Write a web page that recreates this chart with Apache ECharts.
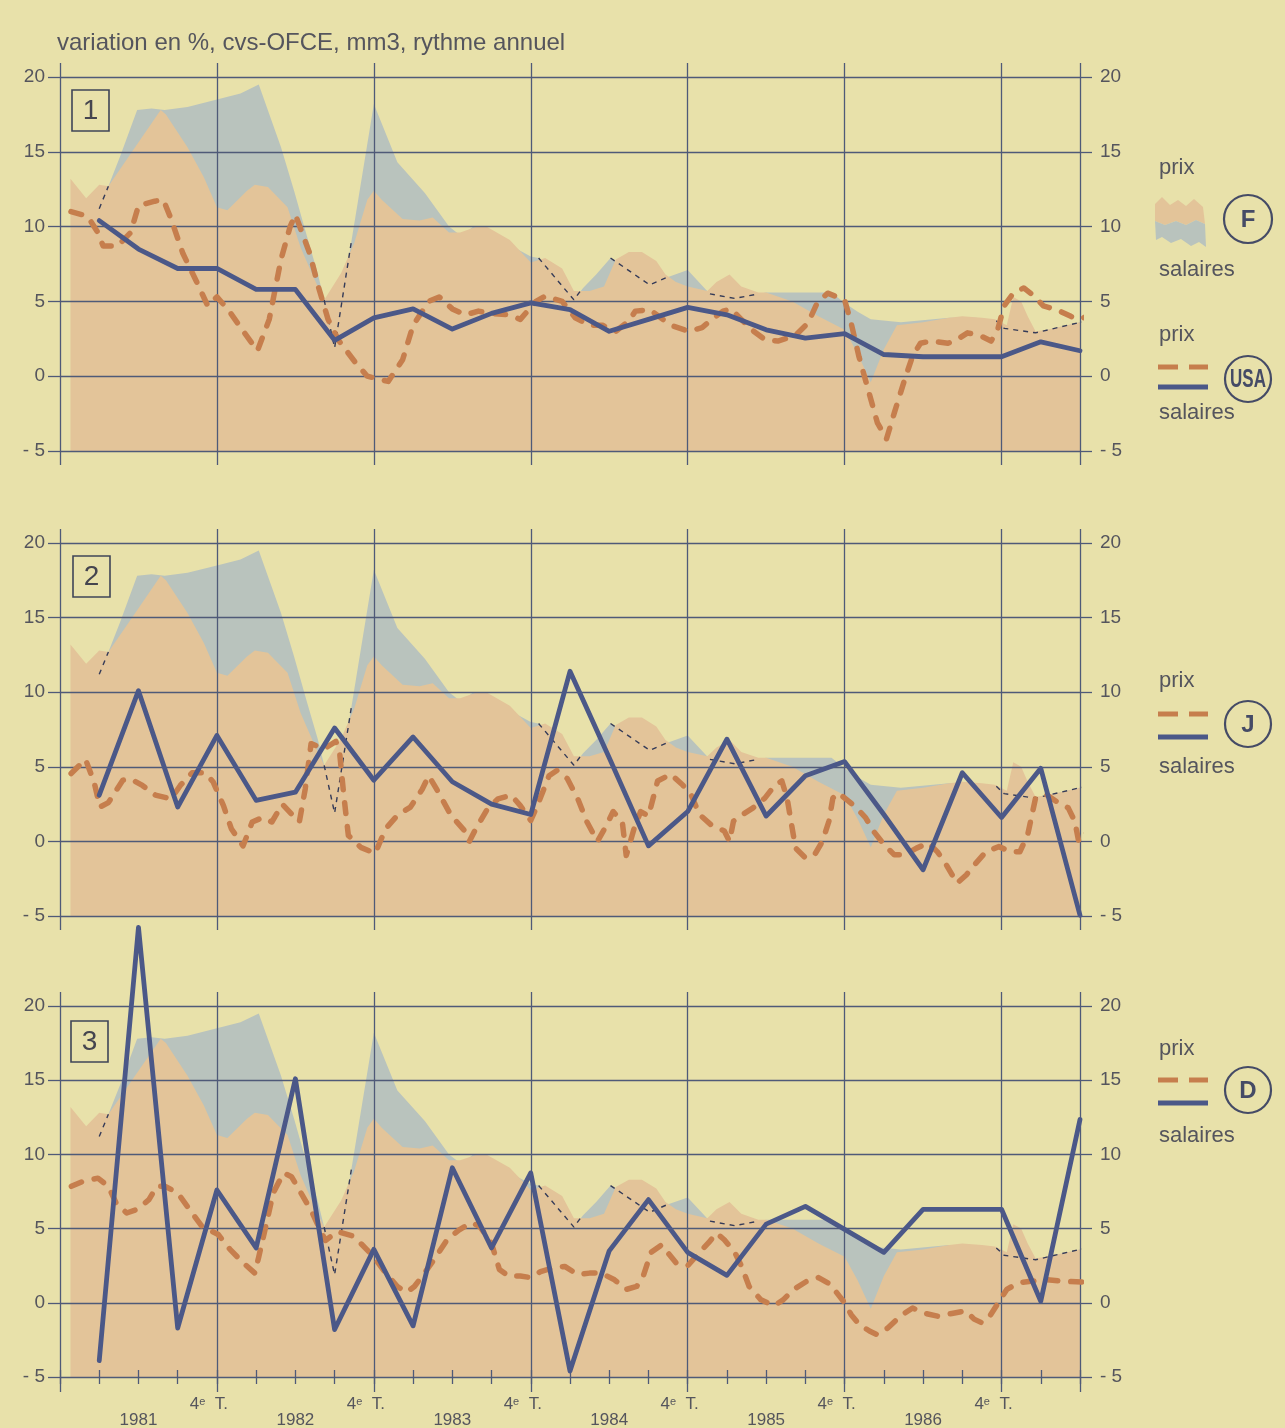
<!DOCTYPE html>
<html><head><meta charset="utf-8">
<script src="https://cdn.jsdelivr.net/npm/echarts@6/dist/echarts.min.js"></script>
<style>html,body{margin:0;padding:0;background:#e8e1aa;}#c{width:1285px;height:1428px;}</style>
</head><body><div id="c"></div>
<script>
// x = months counted from end of 1980 (3 = end of 1st quarter 1981, 12 = 4e T. 1981 ...)
const quarters = [1,2,3,4,5,6,7,8,9,10,11,12,13,14,15,16,17,18,19,20,21,22,23,24,25,26];
const yearLabels = ['1981','1982','1983','1984','1985','1986'];
const quarterLabel = '4{s|e}  T.';
const panelNumbers = ['1','2','3'];
const countries = ['USA','J','D'];

// France (shaded background, same in the three panels)
const fPrix = [[0.8,13.2],[2.0,11.9],[3.0,12.8],[3.7,12.7],[5.9,15.5],[7.7,17.8],[8.1,17.5],[9.75,15.3],[11.0,13.3],[12.0,11.3],[12.8,11.1],[14.3,12.4],[14.9,12.8],[15.9,12.65],[16.4,12.2],[17.4,11.3],[18.4,8.6],[19.5,6.4],[20.2,5.1],[21.5,6.9],[22.5,8.9],[23.5,11.8],[24.0,12.4],[24.6,11.8],[26.2,10.5],[27.5,10.4],[28.5,10.6],[29.75,9.6],[30.6,9.6],[31.9,10.0],[32.6,10.0],[34.4,9.1],[36.0,7.6],[37.1,7.9],[38.4,7.2],[39.3,5.7],[40.5,5.7],[41.6,6.0],[42.5,7.8],[43.5,8.3],[44.5,8.3],[45.6,7.7],[46.3,6.8],[47.1,6.3],[48.0,6.0],[49.5,5.7],[50.2,6.3],[51.2,6.8],[52.1,6.0],[53.4,5.6],[54.0,5.6],[56.0,5.0],[58.0,4.0],[60.0,3.1],[61.0,1.5],[62.0,-0.4],[63.0,1.8],[64.0,3.4],[66.0,3.6],[68.0,3.9],[69.0,4.0],[70.5,3.9],[71.5,3.8],[72.4,3.4],[72.9,5.3],[73.5,5.0],[74.0,4.0],[74.6,3.0],[75.5,3.1],[76.5,3.3],[78.0,3.6],[79.0,3.7]];
const fSal = [[3.0,11.2],[3.7,12.7],[4.6,14.7],[5.9,17.8],[7.0,17.9],[8.0,17.8],[9.75,18.0],[12.0,18.5],[13.8,18.9],[15.2,19.5],[16.9,15.3],[17.9,12.4],[18.9,9.3],[19.7,6.9],[20.2,5.1],[21.0,1.9],[22.3,9.1],[24.0,18.2],[25.8,14.3],[27.9,12.25],[29.75,10.0],[30.7,9.35],[31.6,10.0],[32.5,9.9],[34.1,8.9],[36.0,8.0],[36.6,7.9],[39.3,5.1],[40.0,5.9],[41.0,6.8],[42.1,7.9],[45.1,6.1],[46.4,6.6],[48.0,7.1],[49.7,5.5],[51.6,5.2],[53.4,5.5],[54.0,5.6],[59.0,5.6],[60.0,4.9],[61.0,4.3],[62.0,3.8],[64.3,3.6],[68.0,3.9],[70.0,3.9],[71.6,3.7],[72.2,3.2],[74.6,2.9],[78.0,3.6],[79.0,3.7]];
// parts of the French wage curve lying below prices (thin dashed line)
const fSalBelow = [
  [[3.0,11.2],[3.7,12.7]],
  [[20.2,5.1],[21.0,1.9],[22.3,9.1]],
  [[36.6,7.9],[39.3,5.1],[39.8,5.7]],
  [[42.1,7.9],[45.1,6.1],[46.4,6.6]],
  [[49.7,5.5],[51.6,5.2],[53.4,5.5]],
  [[71.6,3.7],[72.2,3.2],[74.6,2.9],[78.0,3.6],[79.0,3.7]]
];

// USA
const usaPrix = [[0.84,11.0],[2.1,10.7],[2.9,9.6],[3.3,8.7],[4.4,8.7],[5.4,9.6],[6.0,11.4],[7.25,11.7],[7.9,11.8],[8.5,10.5],[9.4,8.2],[10.4,6.4],[11.3,4.7],[12.0,5.3],[12.9,4.4],[14.1,2.9],[15.1,1.7],[16.0,3.8],[16.9,7.8],[17.6,10.0],[18.0,10.8],[19.1,8.2],[19.75,6.0],[20.5,3.8],[21.3,2.4],[22.6,0.9],[23.5,0.0],[25.1,-0.35],[26.2,1.1],[27.0,3.4],[28.2,5.0],[29.0,5.3],[30.0,4.5],[31.0,4.1],[32.0,4.35],[33.0,4.2],[34.3,4.1],[35.2,3.8],[36.4,5.0],[37.1,5.35],[38.4,5.0],[39.4,3.9],[40.5,3.4],[41.5,3.4],[42.5,3.0],[43.5,3.7],[44.0,4.35],[45.1,4.45],[46.1,3.8],[46.9,3.35],[48.1,3.0],[49.1,3.25],[50.0,3.9],[50.7,4.35],[51.3,4.5],[52.1,3.8],[52.9,3.1],[53.9,2.45],[54.9,2.35],[56.2,2.7],[57.2,3.55],[57.9,4.9],[58.7,5.55],[60.0,5.1],[60.5,3.55],[61.1,1.3],[61.8,-0.9],[62.5,-3.1],[63.2,-4.2],[63.8,-2.45],[64.6,-0.2],[65.2,1.35],[65.8,2.2],[66.6,2.35],[67.9,2.2],[68.6,2.45],[69.4,2.9],[70.4,2.7],[71.2,2.35],[71.7,3.1],[72.2,4.7],[72.9,5.55],[73.7,5.9],[74.5,5.35],[75.2,4.7],[76.2,4.45],[77.3,4.0],[78.0,3.8],[78.5,4.0],[79.2,4.6]];
const usaSal = [10.4,8.5,7.2,7.2,5.8,5.8,2.4,3.9,4.5,3.15,4.2,4.9,4.45,3.0,3.8,4.6,4.1,3.1,2.55,2.85,1.45,1.3,1.3,1.3,2.3,1.7];

// Japon
const jPrix = [[0.85,4.55],[1.95,5.5],[2.6,4.0],[3.05,2.3],[3.7,2.6],[4.8,4.1],[5.4,4.2],[6.3,3.75],[7.3,3.1],[8.5,2.85],[9.2,3.75],[10.1,4.6],[11.1,4.6],[11.7,4.0],[12.5,2.4],[13.1,0.85],[14.0,-0.3],[14.7,1.3],[15.5,1.6],[16.2,1.3],[17.0,2.5],[17.8,1.75],[18.3,1.3],[18.75,3.5],[19.2,6.55],[20.2,6.2],[21.1,6.7],[21.4,5.8],[21.7,3.1],[22.05,0.4],[23.0,-0.4],[24.1,-0.8],[24.9,0.85],[25.8,1.75],[26.8,2.3],[27.7,3.5],[28.2,4.4],[28.8,3.5],[29.9,1.75],[30.9,0.75],[31.3,0.0],[31.8,0.85],[32.7,2.2],[33.5,2.85],[34.5,3.1],[35.2,2.4],[36.0,1.4],[36.5,2.4],[37.4,4.4],[38.0,4.75],[38.8,4.2],[39.6,2.85],[40.3,1.3],[41.1,0.0],[41.8,1.1],[42.3,2.0],[43.0,1.3],[43.3,-0.95],[43.9,0.85],[44.4,2.0],[45.0,1.7],[45.7,4.05],[46.7,4.5],[47.6,3.8],[48.25,3.15],[48.9,1.8],[49.8,1.1],[50.8,0.7],[51.2,0.0],[51.5,1.35],[52.2,1.8],[53.0,2.25],[53.9,2.9],[54.7,3.8],[55.2,4.05],[55.6,2.9],[55.9,1.35],[56.25,-0.45],[57.0,-1.1],[57.7,-0.9],[58.3,0.0],[58.8,1.35],[59.1,2.9],[59.5,3.25],[60.3,2.7],[60.9,2.25],[61.6,1.6],[62.2,0.7],[63.0,-0.2],[63.8,-0.9],[64.6,-0.9],[65.5,-0.45],[66.4,-0.1],[67.1,-0.7],[67.7,-1.45],[68.6,-2.8],[69.3,-2.25],[69.9,-1.6],[70.8,-0.7],[71.8,-0.35],[72.7,-0.7],[73.4,-0.7],[74.0,0.45],[74.6,2.9],[75.4,3.15],[76.5,2.5],[77.1,2.25],[77.6,1.35],[77.9,0.0],[78.4,0.45],[78.8,0.9]];
const jSal = [3.1,10.1,2.3,7.1,2.75,3.3,7.6,4.1,7.0,4.0,2.5,1.8,11.4,5.6,-0.3,2.0,6.85,1.7,4.4,5.35,1.8,-1.9,4.6,1.6,4.9,-4.95];

// RFA
const dPrix = [[0.87,7.85],[1.8,8.2],[2.9,8.4],[3.7,7.85],[4.3,6.7],[5.1,6.05],[5.9,6.3],[6.8,6.95],[7.4,7.85],[8.05,7.85],[9.0,7.4],[9.9,6.3],[10.85,5.15],[12.1,4.6],[13.0,3.6],[14.0,2.7],[14.9,2.0],[15.2,3.1],[15.85,5.6],[16.3,7.4],[17.1,8.75],[17.7,8.5],[18.3,7.6],[19.3,6.05],[19.9,4.9],[20.3,4.2],[21.2,4.8],[22.4,4.5],[23.0,4.0],[24.0,3.1],[24.9,2.0],[25.8,1.1],[26.5,0.7],[27.1,1.1],[27.7,1.8],[28.6,2.9],[29.6,4.25],[30.5,4.9],[31.45,5.4],[32.1,5.15],[33.0,4.0],[33.6,2.25],[34.3,1.8],[35.2,1.8],[36.0,1.7],[36.75,2.1],[37.7,2.35],[38.6,2.45],[39.6,1.9],[40.5,2.0],[41.4,2.0],[42.4,1.55],[43.3,0.9],[44.1,1.1],[44.6,1.8],[45.2,3.4],[46.0,3.9],[47.1,2.7],[48.0,2.5],[48.9,3.4],[49.6,4.05],[50.2,4.7],[50.8,4.25],[51.6,3.4],[52.1,2.5],[52.7,1.1],[53.6,0.2],[54.6,-0.2],[55.3,0.2],[56.1,0.9],[57.1,1.45],[58.0,1.7],[58.9,1.25],[59.6,0.45],[60.0,0.0],[60.5,-0.8],[61.1,-1.45],[61.9,-1.9],[62.5,-2.15],[63.3,-1.7],[64.25,-0.9],[65.2,-0.35],[66.1,-0.7],[67.1,-0.9],[68.3,-0.7],[69.25,-0.55],[69.9,-1.1],[70.5,-1.35],[71.1,-0.9],[71.75,0.0],[72.4,0.9],[73.3,1.35],[74.25,1.45],[75.5,1.55],[76.75,1.45],[78.2,1.4]];
const dSal = [-3.9,25.3,-1.7,7.6,3.7,15.1,-1.8,3.6,-1.55,9.1,3.7,8.75,-4.6,3.5,6.95,3.4,1.85,5.3,6.5,4.95,3.4,6.3,6.3,6.3,0.1,12.35];

const prixByPanel = [usaPrix, jPrix, dPrix];
const salByPanel = [usaSal, jSal, dSal];

// ---------- styling / layout ----------
const FONT = "'Liberation Sans', Arial, sans-serif";
const C = {bg:'#e8e1aa', grid:'#4f5a78', orange:'#e3c499', blue:'#b9c3bd', line:'#4b5888',
  dash:'#c67e4d', thin:'#353b58', text:'#55555d'};
const layout = [
  {top:77, height:374, box:[72,90]},
  {top:543, height:373, box:[73,556]},
  {top:1006, height:371, box:[71,1021]}
];
const gridLine = {color:C.grid, width:1.3};
const yFmt = v => v < 0 ? '- ' + (-v) : String(v);
const blank = () => '';
const noLine = {show:false, onZero:false};

const grids = [], xAxes = [], yAxes = [], series = [], graphics = [];

layout.forEach((L, i) => {
  const last = i === 2;
  grids.push({left:60, width:1020, top:L.top, height:L.height, containLabel:false, outerBoundsMode:'none'});
  const xMain = xAxes.length;
  xAxes.push({gridIndex:i, type:'value', position:'bottom', min:0, max:78, interval:12, z:2,
    axisLine:noLine, axisTick:{show:true, length:last?15:14, lineStyle:gridLine},
    splitLine:{show:true, lineStyle:gridLine},
    axisLabel: last ? {show:true, margin:19, fontSize:17, fontFamily:FONT, color:C.text,
      padding:[0,16,0,0],
      formatter: v => (v > 0 && v < 78 && v % 12 === 0) ? quarterLabel : '',
      rich:{s:{fontSize:11, lineHeight:11, verticalAlign:'top', fontFamily:FONT, color:C.text}}}
      : {show:true, formatter:blank, fontSize:10}});
  xAxes.push({gridIndex:i, type:'value', position:'top', min:0, max:78, interval:12, z:2,
    axisLine:noLine, axisTick:{show:true, length:14, lineStyle:gridLine},
    splitLine:{show:false}, axisLabel:{show:true, formatter:blank, fontSize:10}});
  if (last) {
    xAxes.push({gridIndex:i, type:'value', position:'bottom', min:0, max:78, interval:6, z:2,
      axisLine:noLine, axisTick:{show:false}, splitLine:{show:false},
      axisLabel:{show:true, margin:35, fontSize:17, fontFamily:FONT, color:C.text,
        formatter: v => (v % 12 === 6) ? yearLabels[(v - 6) / 12] : ''}});
    xAxes.push({gridIndex:i, type:'value', position:'bottom', offset:-7, min:0, max:78, interval:3, z:2,
      axisLine:noLine, axisTick:{show:true, length:14, lineStyle:gridLine},
      splitLine:{show:false}, axisLabel:{show:true, formatter:blank, fontSize:10}});
  }
  const yLeft = yAxes.length;
  yAxes.push({gridIndex:i, type:'value', position:'left', min:-5, max:20, interval:5, z:2,
    axisLine:noLine, axisTick:{show:true, length:12, lineStyle:gridLine},
    splitLine:{show:true, lineStyle:gridLine},
    axisLabel:{margin:15, fontSize:19, fontFamily:FONT, color:C.text, formatter:yFmt}});
  yAxes.push({gridIndex:i, type:'value', position:'right', min:-5, max:20, interval:5, z:2,
    axisLine:noLine, axisTick:{show:true, length:12, lineStyle:gridLine},
    splitLine:{show:false},
    axisLabel:{margin:20, fontSize:19, fontFamily:FONT, color:C.text, formatter:yFmt}});

  const base = {type:'line', xAxisIndex:xMain, yAxisIndex:yLeft, symbol:'none', silent:true, animation:false, clip:false};
  series.push(Object.assign({}, base, {name:'F salaires', data:fSal, z:0,
    lineStyle:{width:0}, areaStyle:{color:C.blue, opacity:1, origin:'start'}}));
  series.push(Object.assign({}, base, {name:'F prix', data:fPrix, z:1,
    lineStyle:{width:0}, areaStyle:{color:C.orange, opacity:1, origin:'start'}}));
  fSalBelow.forEach(seg => series.push(Object.assign({}, base, {name:'F salaires (sous prix)', data:seg, z:3,
    lineStyle:{color:C.thin, width:1.4, type:[5,5]}})));
  series.push(Object.assign({}, base, {name:countries[i] + ' prix', data:prixByPanel[i], z:4,
    lineStyle:{color:C.dash, width:5.5, type:[11,13], cap:'round', join:'round'}}));
  series.push(Object.assign({}, base, {name:countries[i] + ' salaires', z:5,
    data: quarters.map((q, k) => [3 * q, salByPanel[i][k]]),
    lineStyle:{color:C.line, width:4.8, join:'round', cap:'round'}}));

  // panel number box
  graphics.push({type:'rect', shape:{x:L.box[0], y:L.box[1], width:37, height:41},
    style:{fill:'none', stroke:'#3f4558', lineWidth:1.6}, z:10});
  graphics.push({type:'text', style:{x:L.box[0] + 18.5, y:L.box[1] + 21, text:panelNumbers[i],
    font:'28px ' + FONT, fill:'#45454f', align:'center', verticalAlign:'middle'}, z:10});
});

// ---------- legends ----------
function txt(x, y, s, size) {
  return {type:'text', style:{x:x, y:y, text:s, font:(size||22) + 'px ' + FONT,
    fill:C.text, align:'left', verticalAlign:'middle'}, z:10};
}
function circ(cx, cy, r, label, size, sx) {
  graphics.push({type:'circle', shape:{cx:cx, cy:cy, r:r}, style:{fill:'none', stroke:'#454b66', lineWidth:2.2}, z:10});
  graphics.push({type:'text', x:cx, y:cy + 1, scaleX:sx || 1, style:{x:0, y:0, text:label, font:'bold ' + size + 'px ' + FONT,
    fill:'#454b66', align:'center', verticalAlign:'middle'}, z:10});
}
function lineLegend(yPrix, yDash, yLine, cy, yLab, label, size, sx) {
  graphics.push(txt(1159, yPrix, 'prix'));
  graphics.push({type:'line', shape:{x1:1158, y1:yDash, x2:1178, y2:yDash}, style:{stroke:C.dash, lineWidth:5}, z:10});
  graphics.push({type:'line', shape:{x1:1189, y1:yDash, x2:1208, y2:yDash}, style:{stroke:C.dash, lineWidth:5}, z:10});
  graphics.push({type:'line', shape:{x1:1158, y1:yLine, x2:1208, y2:yLine}, style:{stroke:C.line, lineWidth:5}, z:10});
  circ(1248, cy, 23, label, size, sx);
  graphics.push(txt(1159, yLab, 'salaires'));
}
// France legend
graphics.push(txt(1159, 168, 'prix'));
graphics.push({type:'polygon', shape:{points:[[1155,204],[1162,197],[1170,205],[1178,200],[1186,206],[1194,199],[1203,207],[1205,224],[1196,220],[1186,225],[1176,221],[1165,225],[1155,221]]},
  style:{fill:C.orange}, z:10});
graphics.push({type:'polygon', shape:{points:[[1155,221],[1165,225],[1176,221],[1186,225],[1196,220],[1205,224],[1206,247],[1199,242],[1191,246],[1181,239],[1171,243],[1162,237],[1156,240]]},
  style:{fill:C.blue}, z:10});
circ(1248, 219, 24, 'F', 24);
graphics.push(txt(1159, 270, 'salaires'));
lineLegend(335, 367, 387, 379, 413, 'USA', 25, 0.68);
lineLegend(681, 714, 737, 724, 767, 'J', 24);
lineLegend(1049, 1080, 1103, 1090, 1136, 'D', 24);
// subtitle
graphics.push({type:'text', style:{x:57, y:43, text:'variation en %, cvs-OFCE, mm3, rythme annuel',
  font:'24px ' + FONT, fill:C.text, align:'left', verticalAlign:'middle'}, z:10});

const chart = echarts.init(document.getElementById('c'), null, {renderer:'canvas'});
chart.setOption({
  backgroundColor: C.bg,
  animation:false,
  grid: grids, xAxis: xAxes, yAxis: yAxes, series: series, graphic: graphics
});
</script></body></html>
